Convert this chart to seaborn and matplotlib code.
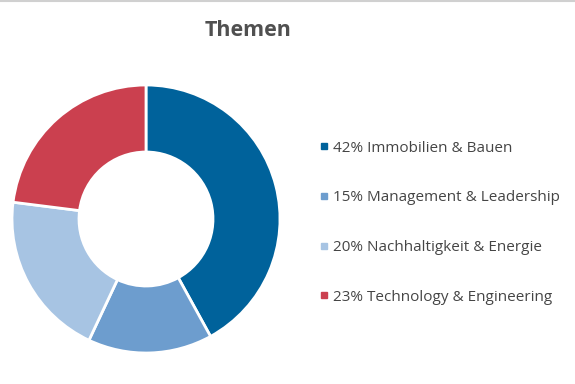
import matplotlib
matplotlib.use("Agg")
import matplotlib.pyplot as plt
from matplotlib.lines import Line2D
import seaborn as sns

# Themen share (percent)
topics = ["Immobilien & Bauen", "Management & Leadership",
          "Nachhaltigkeit & Energie", "Technology & Engineering"]
shares = [42, 15, 20, 23]
colors = ["#00629b", "#6d9dce", "#a7c4e3", "#cb404f"]

sns.set_theme(style="white")
plt.rcParams["font.family"] = ["Open Sans", "DejaVu Sans"]

W, H = 575, 384
fig = plt.figure(figsize=(W / 100, H / 100), dpi=100)

# pie axes, centred at about (146, 219) px with radius 134 px
cx, cy, r = 146, 219, 134
ax = fig.add_axes([(cx - r) / W, (H - cy - r) / H, 2 * r / W, 2 * r / H])
wedges, _ = ax.pie(
    shares,
    colors=colors,
    startangle=90,
    counterclock=False,
    radius=1.0,
    wedgeprops=dict(width=0.5, edgecolor="white", linewidth=2),
)
ax.set_xlim(-1.0, 1.0)
ax.set_ylim(-1.0, 1.0)
ax.set_aspect("equal")
ax.axis("off")

fig.text(248 / W, 1 - 30 / H, "Themen", ha="center", va="center",
         fontsize=15.5, fontweight="bold", color="#505050")

handles = [Line2D([0], [0], marker="s", linestyle="none", markersize=5,
                  markerfacecolor=c, markeredgecolor=c) for c in colors]
labels = [f"{s}% {t}" for s, t in zip(shares, topics)]
leg = fig.legend(handles, labels, loc="upper left",
                 bbox_to_anchor=(312 / W, 1 - 133 / H),
                 frameon=False, fontsize=11, handlelength=0.6,
                 handletextpad=0.25, labelspacing=2.27, borderpad=0)
for t in leg.get_texts():
    t.set_color("#454545")

# thin grey border at the top of the image
fig.add_artist(Line2D([0, 1], [1 - 1 / H, 1 - 1 / H], transform=fig.transFigure,
                      color="#d0d0d0", linewidth=1.5))

fig.savefig("out.png", dpi=100, facecolor="white")
